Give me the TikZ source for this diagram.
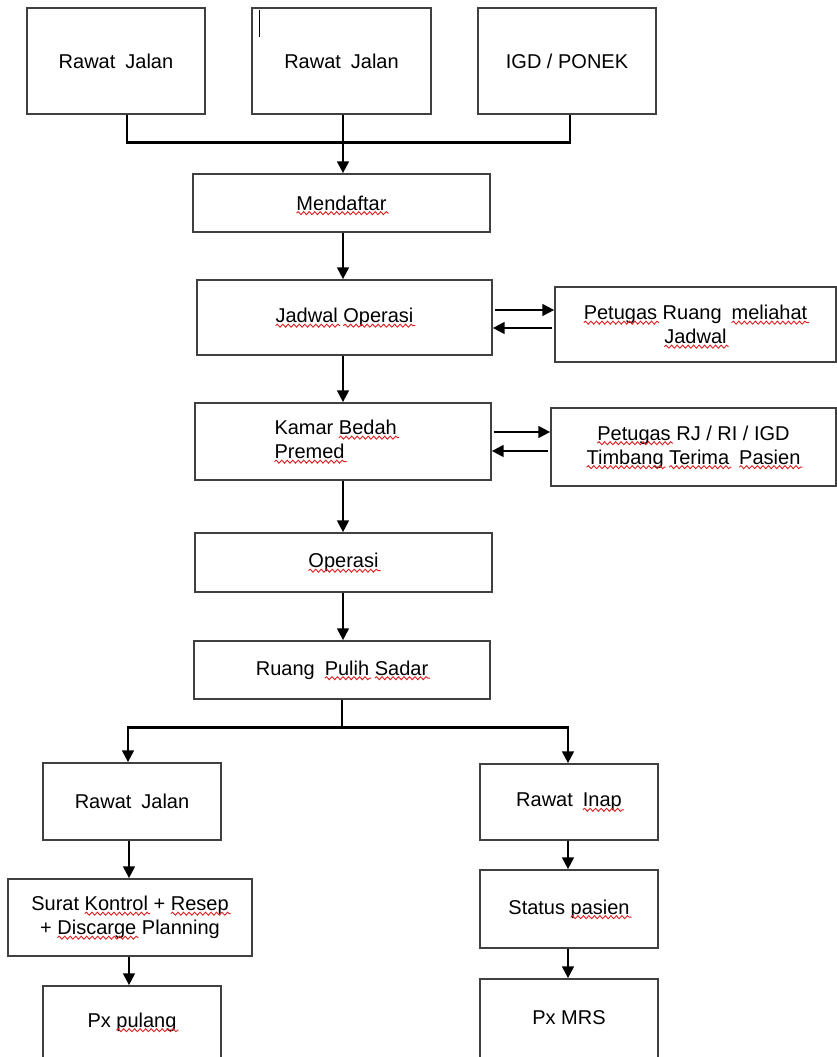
\documentclass[tikz,border=0pt]{standalone}
\usepackage{fontspec}
\setmainfont{Liberation Sans}
\usetikzlibrary{arrows.meta,decorations.pathmorphing}
\definecolor{boxc}{HTML}{404040}
\definecolor{sqc}{HTML}{E02020}
\newcommand\dsp{\hspace{0.5em}}
\newcommand\sq[1]{\tikz[baseline=(sqw.base)]{\node[inner sep=0pt,outer sep=0pt,minimum width=0pt,minimum height=0pt,draw=none,fill=none,text width=,anchor=center](sqw){#1};\draw[overlay,sqc,line width=0.9pt,decorate,decoration={snake,amplitude=1.5pt,segment length=5.5pt}]([yshift=-3pt]sqw.base west)--([yshift=-3pt,xshift=2pt]sqw.base east);}}
\begin{document}
\begin{tikzpicture}[x=1pt,y=-1pt,
 box/.style={draw=boxc,line width=1.4pt,inner sep=0pt,align=center,font=\fontsize{20}{24}\selectfont},
 txt/.style={inner sep=0pt,font=\fontsize{20}{24}\selectfont},
 conn/.style={line width=2.9pt,draw=black},
 arr/.style={conn,-{Triangle[length=12pt,width=11.5pt]}}]
\useasboundingbox[fill=white] (0,0) rectangle (837,1057);
\clip (0,0) rectangle (837,1057);
% top row
\node[box,minimum width=178pt,minimum height=106pt] (rj1) at (116,61) {Rawat\dsp Jalan};
\node[box,minimum width=179pt,minimum height=106pt] (rj2) at (341.5,61) {Rawat\dsp Jalan};
\node[box,minimum width=178pt,minimum height=106pt] (igd) at (567,61) {IGD / PONEK};
\draw[line width=0.8pt] ([xshift=8pt,yshift=-3pt]rj2.north west) -- ++(0,27);
% main column
\node[box,minimum width=297pt,minimum height=58pt] (daftar) at (341.5,203) {\sq{Mendaftar}};
\node[box,minimum width=295pt,minimum height=75pt] (jadwal) at (344.5,317.5) {\sq{Jadwal} \sq{Operasi}};
\node[box,minimum width=281pt,minimum height=75pt] (petR) at (695.5,324.5) {\sq{Petugas} Ruang\dsp\sq{meliahat}\\\sq{Jadwal}};
\node[box,minimum width=296pt,minimum height=77pt] (kamar) at (343,441.5) {};
\node[txt,align=left,anchor=west] (kamarT) at ([xshift=80pt,yshift=2pt]kamar.west) {Kamar \sq{Bedah}\\\sq{Premed}};
\node[box,minimum width=285pt,minimum height=78pt] (petRJ) at (693.5,447) {\sq{Petugas} RJ / RI / IGD\\\sq{Timbang} \sq{Terima}\dsp\sq{Pasien}};
\node[box,minimum width=297pt,minimum height=59pt] (operasi) at (343.5,562.5) {\sq{Operasi}};
\node[box,minimum width=296pt,minimum height=58pt] (pulih) at (342,670) {Ruang\dsp\sq{Pulih} \sq{Sadar}};
% left branch
\node[box,minimum width=178pt,minimum height=77pt] (rjB) at (132,801.5) {Rawat\dsp Jalan};
\node[box,minimum width=244pt,minimum height=77pt] (surat) at (130,917.5) {Surat \sq{Kontrol} + \sq{Resep}\\+ \sq{Discarge} Planning};
\node[box,minimum width=178pt,minimum height=84pt] (pulang) at (132,1028) {};
\node[txt] (pulangT) at (132,1022) {Px \sq{pulang}};
% right branch
\node[box,minimum width=178pt,minimum height=76pt] (inap) at (569,802) {Rawat\dsp\sq{Inap}};
\node[box,minimum width=178pt,minimum height=78pt] (status) at (569,909) {Status \sq{pasien}};
\node[box,minimum width=178pt,minimum height=91pt] (mrs) at (569,1024.5) {};
\node[txt] (mrsT) at (569,1018) {Px MRS};
% connectors
\draw[conn] ([xshift=11pt]rj1.south) -- ++(0,28) -| ([xshift=3pt]igd.south);
\draw[arr] ([xshift=1.5pt]rj2.south) -- ([xshift=1.5pt]rj2.south |- daftar.north);
\draw[arr] ([xshift=1.5pt]daftar.south) -- ([xshift=1.5pt]daftar.south |- jadwal.north);
\draw[arr] ([xshift=-1.5pt]jadwal.south) -- ([xshift=-1.5pt]jadwal.south |- kamar.north);
\draw[arr] (kamar.south) -- (kamar.south |- operasi.north);
\draw[arr] ([xshift=-0.5pt]operasi.south) -- ([xshift=-0.5pt]operasi.south |- pulih.north);
\draw[arr,shorten <=2pt] ([yshift=7.5pt]jadwal.east) -- ([yshift=7.5pt]jadwal.east -| petR.west);
\draw[arr,shorten <=2pt] ([yshift=-10.5pt]jadwal.east -| petR.west) -- ([yshift=-10.5pt]jadwal.east);
\draw[arr,shorten <=2pt] ([yshift=9.5pt]kamar.east) -- ([yshift=9.5pt]kamar.east -| petRJ.west);
\draw[arr,shorten <=2pt] ([yshift=-9.5pt]kamar.east -| petRJ.west) -- ([yshift=-9.5pt]kamar.east);
\draw[conn] (pulih.south) -- ++(0,28) coordinate (j2);
\draw[arr] (j2) -| ([xshift=-4pt]rjB.north);
\draw[arr] (j2) -| ([xshift=-1pt]inap.north);
\draw[arr] ([xshift=-3pt]rjB.south) -- ([xshift=-3pt]rjB.south |- surat.north);
\draw[arr] ([xshift=-3pt]surat.south -| rjB.south) -- ([xshift=-3pt]pulang.north);
\draw[arr] ([xshift=-1pt]inap.south) -- ([xshift=-1pt]status.north);
\draw[arr] ([xshift=-1pt]status.south) -- ([xshift=-1pt]mrs.north);
\end{tikzpicture}
\end{document}
